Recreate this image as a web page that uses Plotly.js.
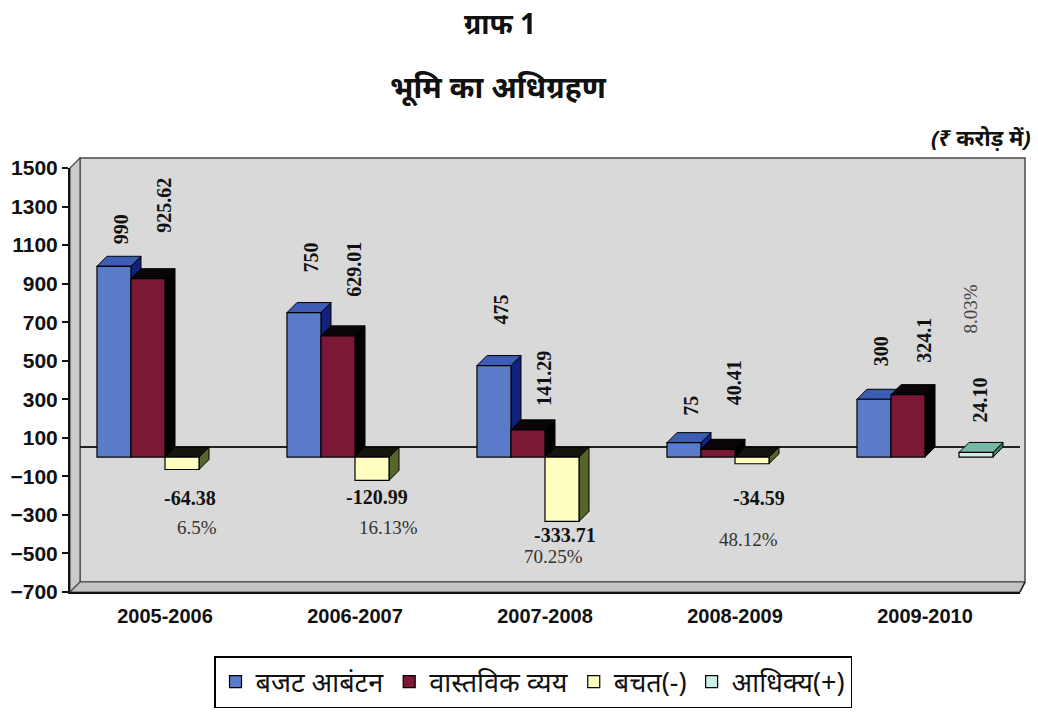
<!DOCTYPE html>
<html>
<head>
<meta charset="utf-8">
<script src="https://cdn.plot.ly/plotly-3.0.1.min.js"></script>
<style>html,body{margin:0;padding:0;background:#fff;}#chart{width:1038px;height:713px;}</style>
</head>
<body>
<div id="chart"></div>
<script>
// ---- data ----
const categories = ['2005-2006', '2006-2007', '2007-2008', '2008-2009', '2009-2010'];
const seriesNames = ['बजट आबंटन', 'वास्तविक व्यय', 'बचत(-)', 'आधिक्य(+)'];
const budget = [990, 750, 475, 75, 300];
const actual = [925.62, 629.01, 141.29, 40.41, 324.1];
const savings = [-64.38, -120.99, -333.71, -34.59, null];
const excess = [null, null, null, null, 24.10];
const variancePct = ['6.5%', '16.13%', '70.25%', '48.12%', '8.03%'];
const yTicks = [-700, -500, -300, -100, 100, 300, 500, 700, 900, 1100, 1300, 1500];

// ---- layout constants ----
const W0 = 1038, H0 = 713;
const M = {l: 70, r: 18, t: 168, b: 121, autoexpand: false};
const PW = W0 - M.l - M.r, PH = H0 - M.t - M.b;
const YMIN = -700, YMAX = 1500;
const XMIN = -0.5, XMAX = categories.length - 0.5;
const BARGAP = 0.284;
const NS = 4;
const SW = (1 - BARGAP) / NS;
const DEPTH = 10; // px
const DXu = DEPTH * (XMAX - XMIN) / PW;
const DYu = DEPTH * (YMAX - YMIN) / PH;
const fx = px => (px - M.l) / PW;
const fy = py => (H0 - M.b - py) / PH;

const faceCol = ['#5a7bc8', '#7a1836', '#ffffc0', '#cdeee8'];
const topCol = ['#3c5db3', '#0a0508', '#1e1e10', '#74b8a6'];
const sideCol = ['#13217a', '#000000', '#56652a', '#3a7c6c'];

const xs = categories.map((c, i) => i);
const allSeries = [budget, actual, savings, excess];

const traces = allSeries.map((vals, k) => ({
  type: 'bar', name: seriesNames[k], x: xs, y: vals,
  marker: {color: faceCol[k], line: {color: '#000', width: 1.2}},
  hoverinfo: 'skip'
}));

function slotCenter(i, k) { return i - (1 - BARGAP) / 2 + (k + 0.5) * SW; }

const shapes = [];
// wall (paper)
shapes.push({type: 'rect', xref: 'paper', yref: 'paper', layer: 'below',
  x0: fx(80), x1: fx(1025), y0: fy(582), y1: fy(158),
  fillcolor: '#d9d9d9', line: {color: '#4a4a4a', width: 1.5}});
shapes.push({type: 'path', xref: 'paper', yref: 'paper', layer: 'below',
  path: `M${fx(70)},${fy(168)} L${fx(80)},${fy(158)} L${fx(80)},${fy(582)} L${fx(70)},${fy(592)} Z`,
  fillcolor: '#cbcbcb', line: {color: '#4a4a4a', width: 1.2}});
shapes.push({type: 'path', xref: 'paper', yref: 'paper', layer: 'below',
  path: `M${fx(70)},${fy(592)} L${fx(80)},${fy(582)} L${fx(1025)},${fy(582)} L${fx(1020)},${fy(592)} Z`,
  fillcolor: '#c4c4c4', line: {color: '#4a4a4a', width: 1.2}});
shapes.push({type: 'path', xref: 'paper', yref: 'paper', layer: 'below',
  path: `M${fx(1020)},${fy(592)} L${fx(1025)},${fy(582)}`,
  line: {color: '#222', width: 1.5}});
// back zero line
shapes.push({type: 'line', xref: 'x', yref: 'y', layer: 'below',
  x0: XMIN + DXu, x1: XMAX + DXu * 0.5, y0: DYu, y1: DYu,
  line: {color: '#222', width: 2}});

// 3D faces computed from data
allSeries.forEach((vals, k) => {
  vals.forEach((v, i) => {
    if (v === null || v === undefined) return;
    const c = slotCenter(i, k);
    const L = c - SW / 2, R = c + SW / 2;
    const T = Math.max(v, 0), B = Math.min(v, 0);
    shapes.push({type: 'path', xref: 'x', yref: 'y', layer: 'below',
      path: `M${R},${T} L${R + DXu},${T + DYu} L${R + DXu},${B + DYu} L${R},${B} Z`,
      fillcolor: sideCol[k], line: {color: '#000', width: 1}});
    shapes.push({type: 'path', xref: 'x', yref: 'y', layer: 'below',
      path: `M${L},${T} L${L + DXu},${T + DYu} L${R + DXu},${T + DYu} L${R},${T} Z`,
      fillcolor: v >= 0 ? topCol[k] : '#151510', line: {color: '#000', width: 1}});
  });
});

// ---- labels ----
const valFont = {family: 'Liberation Serif, Times New Roman, serif', size: 20, color: '#111', weight: 'bold'};
const pctFont = {family: 'Liberation Serif, Times New Roman, serif', size: 19, color: '#333'};
const budgetLift = [37, 55, 56, 37, 48];
const actualLift = [74, 66, 52, 66, 54];
const savDrop = [28, 17, 14, 34];
const savShift = [8, 5, 3, 7];
const pctDrop = [58, 47, 35, 76];
const pctShift = [15, 16, -9, -4];
const annotations = [];
budget.forEach((v, i) => annotations.push({x: slotCenter(i, 0), y: v, xref: 'x', yref: 'y',
  text: String(v), textangle: -90, showarrow: false, xanchor: 'center', yanchor: 'middle',
  xshift: 7, yshift: budgetLift[i], font: valFont}));
actual.forEach((v, i) => annotations.push({x: slotCenter(i, 1), y: v, xref: 'x', yref: 'y',
  text: String(v), textangle: -90, showarrow: false, xanchor: 'center', yanchor: 'middle',
  xshift: 16, yshift: actualLift[i], font: valFont}));
savings.forEach((v, i) => {
  if (v === null) return;
  annotations.push({x: slotCenter(i, 2), y: v, xref: 'x', yref: 'y', text: String(v),
    showarrow: false, xanchor: 'center', yanchor: 'middle', xshift: savShift[i], yshift: -savDrop[i],
    font: valFont});
  annotations.push({x: slotCenter(i, 2), y: v, xref: 'x', yref: 'y', text: variancePct[i],
    showarrow: false, xanchor: 'center', yanchor: 'middle', xshift: pctShift[i], yshift: -pctDrop[i],
    font: pctFont});
});
excess.forEach((v, i) => {
  if (v === null) return;
  annotations.push({x: slotCenter(i, 3), y: v, xref: 'x', yref: 'y', text: v.toFixed(2),
    textangle: -90, showarrow: false, xanchor: 'center', yanchor: 'middle', xshift: 4, yshift: 52, font: valFont});
  annotations.push({x: slotCenter(i, 3), y: v, xref: 'x', yref: 'y', text: variancePct[i],
    textangle: -90, showarrow: false, xanchor: 'center', yanchor: 'middle', xshift: -6, yshift: 143,
    font: {family: pctFont.family, size: 19, color: '#444'}});
});
annotations.push({xref: 'paper', yref: 'paper', x: fx(498), y: fy(87), text: 'भूमि का अधिग्रहण',
  showarrow: false, xanchor: 'center', yanchor: 'middle',
  font: {family: 'Noto Sans, sans-serif', size: 30, color: '#111', weight: 'bold'}});
annotations.push({xref: 'paper', yref: 'paper', x: fx(1033), y: fy(137), text: '<i>(₹ करोड़ में)</i>',
  showarrow: false, xanchor: 'right', yanchor: 'middle',
  font: {family: 'Noto Sans, sans-serif', size: 22, color: '#111', weight: 'bold'}});

const tickFont = {family: 'Liberation Sans, Arial, sans-serif', size: 21, color: '#111', weight: 'bold'};
const xTickFont = {family: 'Liberation Sans, Arial, sans-serif', size: 20, color: '#111', weight: 'bold'};
const boundaries = categories.map((c, i) => i + 0.5).slice(0, -1);

const layout = {
  width: W0, height: H0, margin: M,
  paper_bgcolor: '#ffffff', plot_bgcolor: 'rgba(0,0,0,0)',
  title: {text: 'ग्राफ 1', x: 500 / W0, xanchor: 'center', xref: 'container',
    y: 1 - 24 / H0, yref: 'container', yanchor: 'middle',
    font: {family: 'Noto Sans, sans-serif', size: 28, color: '#111', weight: 'bold'}},
  barmode: 'group', bargap: BARGAP, bargroupgap: 0,
  showlegend: true,
  legend: {orientation: 'h', x: fx(533), xanchor: 'center', y: fy(656), yanchor: 'top',
    bordercolor: '#000', borderwidth: 1.5, bgcolor: '#fff', itemwidth: 30,
    font: {family: 'Noto Sans, sans-serif', size: 27, color: '#111'}, traceorder: 'normal'},
  xaxis: {range: [XMIN, XMAX], tickmode: 'array', tickvals: xs, ticktext: categories,
    ticks: '', showline: true, linecolor: '#111', linewidth: 2, showgrid: false, zeroline: false,
    tickfont: xTickFont, ticklabelstandoff: 5, fixedrange: true, automargin: false},
  xaxis2: {overlaying: 'x', anchor: 'y', side: 'bottom', range: [XMIN, XMAX], tickmode: 'array',
    tickvals: [XMIN].concat(boundaries, [XMAX]), ticks: 'outside', ticklen: 8, tickwidth: 2, tickcolor: '#111',
    showticklabels: false, showline: false, showgrid: false, zeroline: false},
  xaxis3: {overlaying: 'x', anchor: 'free', position: (0 - YMIN) / (YMAX - YMIN), range: [XMIN, XMAX],
    tickmode: 'array', tickvals: boundaries.concat([XMAX]), ticks: 'outside', ticklen: 6, tickwidth: 2, tickcolor: '#111',
    showticklabels: false, showline: true, linecolor: '#111', linewidth: 2, showgrid: false, zeroline: false},
  yaxis: {range: [YMIN, YMAX], tickmode: 'array', tickvals: yTicks, ticks: 'outside', ticklen: 6,
    tickwidth: 2, tickcolor: '#111', showline: true, linecolor: '#111', linewidth: 2, showgrid: false,
    zeroline: false, tickfont: tickFont, fixedrange: true, automargin: false},
  shapes: shapes, annotations: annotations
};

Plotly.newPlot('chart', traces, layout, {displayModeBar: false, staticPlot: true});
</script>
</body>
</html>
